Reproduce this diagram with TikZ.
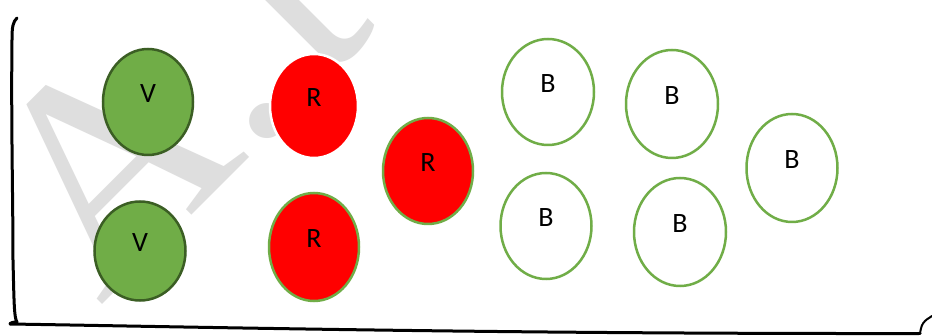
\documentclass[tikz,border=0pt]{standalone}
\usepackage{fontspec}
\setmainfont{Carlito}
\newfontfamily\wmfont{Liberation Serif}
\usetikzlibrary{shapes.geometric}
\definecolor{vfill}{HTML}{70AD47}
\definecolor{vline}{HTML}{3B5E24}
\definecolor{bline}{HTML}{70AD47}
\definecolor{wmgray}{HTML}{DEDEDE}
\tikzset{
  ball/.style={ellipse, inner sep=0pt, line width=2.5pt,
    font=\fontsize{28}{28}\selectfont, text=black},
  vball/.style={ball, fill=vfill, draw=vline},
  rball/.style={ball, fill=red, draw=white},
  rgball/.style={ball, fill=red, draw=bline},
  bball/.style={ball, fill=white, draw=bline},
  sz/.style 2 args={minimum width=#1pt, minimum height=#2pt},
  frame/.style={line width=3pt, line cap=round, line join=round, draw=black}
}
\newcommand{\lbl}[1]{\raisebox{16pt}{#1}}
\begin{document}
\begin{tikzpicture}[x=1pt, y=-1pt]
\useasboundingbox (0,0) rectangle (932,336);
\fill[white] (0,0) rectangle (932,336);
% watermark
\node[anchor=base west, rotate=45, inner sep=0pt, text=wmgray,
      font=\wmfont\fontsize{295}{295}\selectfont] (wm) at (100,307) {A.\kern0.09em t};
% frame
\draw[frame] (17,18) .. controls (13,22) and (12,26) .. (12,40)
  .. controls (11,120) and (13,200) .. (13,260)
  .. controls (14,300) and (14,318) .. (17,322)
  .. controls (13,322) and (10,323) .. (10,324);
\draw[frame] (10,324) .. controls (200,327) and (500,334) .. (920,333.5);
\draw[line width=2pt, line cap=round] (920,333.5) .. controls (921,327) and (922,324) .. (925,321)
  .. controls (928,318) and (930,318) .. (932,316);
% balls
\node[vball, sz={90}{106}] (v1) at (148,102) {\lbl{V}};
\node[vball, sz={91}{99}] (v2) at (140,251) {\lbl{V}};
\node[rball, sz={88}{104}] (r1) at (314,106) {\lbl{R}};
\node[rgball, sz={90}{108}] (r2) at (314,247) {\lbl{R}};
\node[rgball, sz={90}{106}] (r3) at (428,171) {\lbl{R}};
\node[bball, sz={92}{106}] (b1) at (548,92) {\lbl{B}};
\node[bball, sz={91}{106}] (b2) at (546,226) {\lbl{B}};
\node[bball, sz={92}{108}] (b3) at (672,104) {\lbl{B}};
\node[bball, sz={92}{108}] (b4) at (680,232) {\lbl{B}};
\node[bball, sz={91}{108}] (b5) at (792,168) {\lbl{B}};
\end{tikzpicture}
\end{document}
